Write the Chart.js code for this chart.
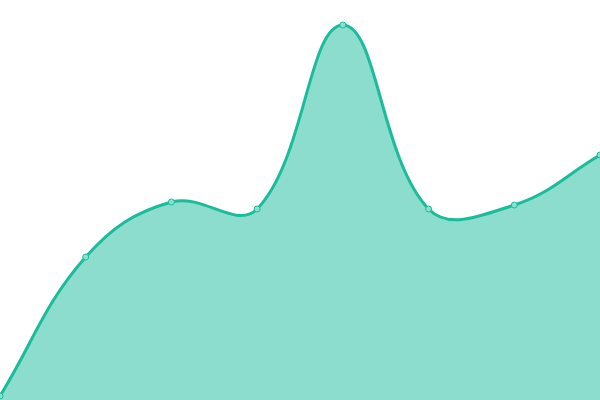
<!DOCTYPE html>
<html>
<head>
<meta charset="utf-8">
<script src="https://cdn.jsdelivr.net/npm/chart.js@4"></script>
<style>
  html, body { margin: 0; padding: 0; background: #fff; }
  #wrap { width: 600px; height: 400px; }
</style>
</head>
<body>
<div id="wrap"><canvas id="chart"></canvas></div>
<script>
var labels = ["1", "2", "3", "4", "5", "6", "7", "8"]
var values = [1, 35.75, 49.5, 47.75, 93.75, 47.75, 48.75, 61.25]

var ctx = document.getElementById("chart").getContext("2d")
new Chart(ctx, {
	type: "line",
	data: {
		labels: labels,
		datasets: [{
			data: values,
			borderColor: "#1abc9c",
			backgroundColor: "rgba(26,188,156,0.5)",
			borderWidth: 3,
			fill: "start",
			tension: 0.4,
			pointRadius: 3,
			pointBorderWidth: 1,
			pointBackgroundColor: "#8ae0d0",
			pointBorderColor: "#1abc9c"
		}]
	},
	options: {
		responsive: true,
		maintainAspectRatio: false,
		animation: false,
		clip: false,
		layout: { padding: 0, autoPadding: false },
		plugins: { legend: { display: false }, tooltip: { enabled: false } },
		scales: {
			x: { display: false, offset: false },
			y: { display: false, min: 0, max: 100 }
		}
	}
})
</script>
</body>
</html>
